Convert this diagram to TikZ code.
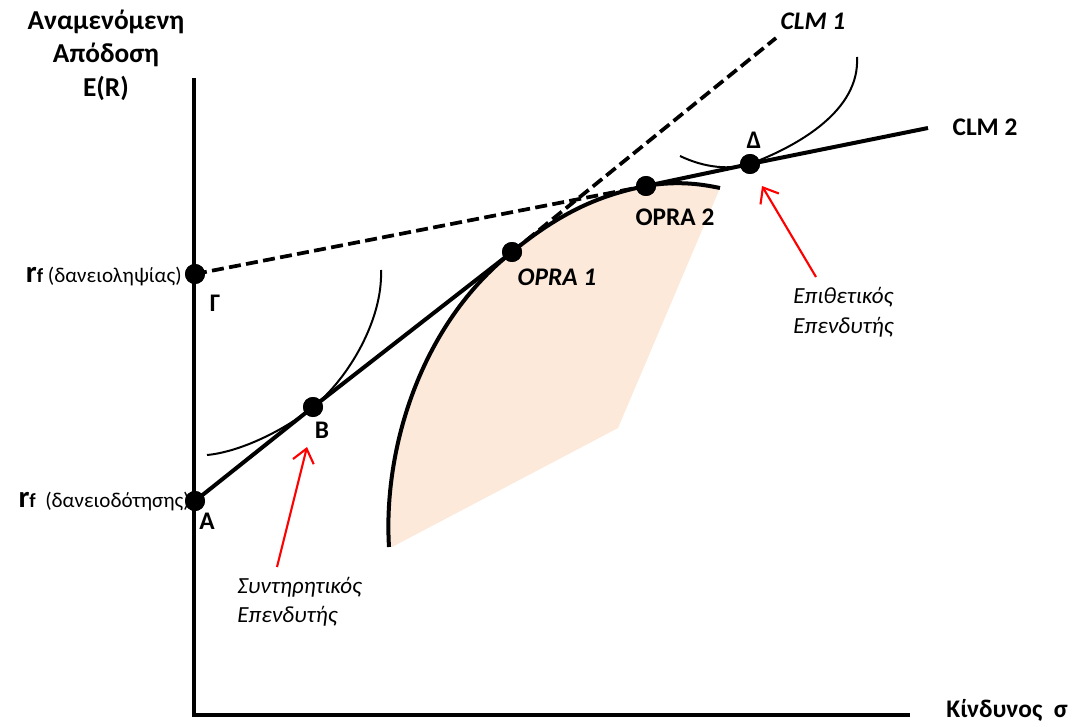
\documentclass[tikz,border=0pt]{standalone}
\usepackage{fontspec}
\setmainfont{Carlito}
\usetikzlibrary{arrows.meta}
\definecolor{peach}{RGB}{252,233,218}
\begin{document}
\begin{tikzpicture}[x=0.75pt,y=-0.75pt,
  dot/.style={circle,fill=black,inner sep=0pt,minimum size=15pt},
  axis/.style={line width=3.6pt},
  mainline/.style={line width=3pt},
  dsh/.style={line width=2.8pt,dash pattern=on 9pt off 4pt},
  icurve/.style={line width=1.5pt},
  redarrow/.style={draw=red,line width=1.6pt,-{Straight Barb[length=10pt,width=16pt,line width=1.6pt]}},
  lbl/.style={font=\fontsize{19}{22}\selectfont\bfseries,inner sep=0pt},
  tlbl/.style={font=\fontsize{20.5}{22}\selectfont\bfseries,inner sep=0pt},
  ilbl/.style={font=\fontsize{19}{22}\selectfont\bfseries\itshape,inner sep=0pt},
  note/.style={font=\fontsize{17.3}{22}\selectfont\itshape,inner sep=0pt,align=left},
  rfl/.style={font=\fontsize{15.8}{18}\selectfont,inner sep=0pt}
]
\useasboundingbox (0,0) rectangle (1077,727);

% axes
\coordinate (ytop) at (194,78);
\coordinate (orig) at (194,715);
\coordinate (xend) at (910,715);

% key points
\coordinate (pA) at (195,501);
\coordinate (pG) at (195,274);
\coordinate (pB) at (313,407);
\coordinate (pO1) at (512,252);
\coordinate (pO2) at (646,186);
\coordinate (pD) at (750,164);
\coordinate (clm1end) at (776,38);
\coordinate (clm2end) at (928,128);

% feasible region
\fill[peach] (389,547) .. controls (383,450) and (420,325) .. (pO1)
  .. controls (561,212) and (600,195) .. (pO2)
  .. controls (680,180) and (705,185) .. (720,188)
  -- (618,428) -- (392,547) -- cycle;

% efficient frontier
\draw[mainline] (389,547) .. controls (383,450) and (420,325) .. (pO1)
  .. controls (561,212) and (600,195) .. (pO2)
  .. controls (680,180) and (705,185) .. (720,188);

% indifference curves
\draw[icurve] (207,455) .. controls (240,452) and (285,430) .. (pB)
  .. controls (348,379) and (383,320) .. (381,270);
\draw[icurve] (680,156) .. controls (705,168) and (730,170) .. (pD)
  .. controls (800,145) and (860,110) .. (857,57);

\draw[axis] (ytop) -- (orig) -- (xend);

% dots
\node[dot] (A) at (pA) {};
\node[dot] (G) at (pG) {};
\node[dot] (B) at (pB) {};
\node[dot] (O1) at (pO1) {};
\node[dot] (O2) at (pO2) {};
\node[dot] (D) at (pD) {};

% CLM lines
\draw[mainline] (A.center) -- (B.center) -- (O1.center);
\draw[dsh] (O1.center) -- (clm1end);
\draw[dsh] (G.center) -- (O2.center);
\draw[mainline] (O2.center) -- (D.center) -- (clm2end);

% redraw dots on top
\foreach \p in {pA,pG,pB,pO1,pO2,pD} \fill (\p) circle[radius=7.5pt];

% labels
\node[tlbl,anchor=base] (t1) at (106,30) {Αναμενόμενη};
\node[tlbl,anchor=base] (t2) at (106,63) {Απόδοση};
\node[tlbl,anchor=base] (t3) at (106,97) {E(R)};

\node[rfl,anchor=base east] (rfG) at (182,282) {{\fontsize{23}{24}\selectfont\bfseries r}{\fontsize{15}{16}\selectfont\bfseries f} (δανειοληψίας)};
\node[rfl,anchor=base east] (rfA) at (190,507) {{\fontsize{23}{24}\selectfont\bfseries r}{\fontsize{15}{16}\selectfont\bfseries f}\ \ (δανειοδότησης)};

\node[lbl] (lG) at (215,303) {Γ};
\node[lbl] (lA) at (207,521) {A};
\node[lbl] (lB) at (322,430) {B};
\node[ilbl] (lO1) at (557,277) {OPRA 1};
\node[lbl] (lO2) at (675,217) {OPRA 2};
\node[lbl] (lD) at (754,140) {Δ};
\node[ilbl] (lC1) at (813,21) {CLM 1};
\node[lbl] (lC2) at (985,127) {CLM 2};
\node[lbl,anchor=base] (lx) at (1007,717) {Κίνδυνος\ \ σ};

\node[note,anchor=base west] (agg1) at (793,303) {Επιθετικός};
\node[note,anchor=base west] (agg2) at (793,333) {Επενδυτής};
\node[note,anchor=base west] (con1) at (237,593) {Συντηρητικός};
\node[note,anchor=base west] (con2) at (237,622) {Επενδυτής};

% red arrows
\coordinate (arB) at (277,567);
\coordinate (arBt) at (307,447);
\coordinate (arD) at (816,277);
\coordinate (arDt) at (762,186);
\draw[redarrow] (arB) -- (arBt);
\draw[redarrow] (arD) -- (arDt);
\end{tikzpicture}
\end{document}
